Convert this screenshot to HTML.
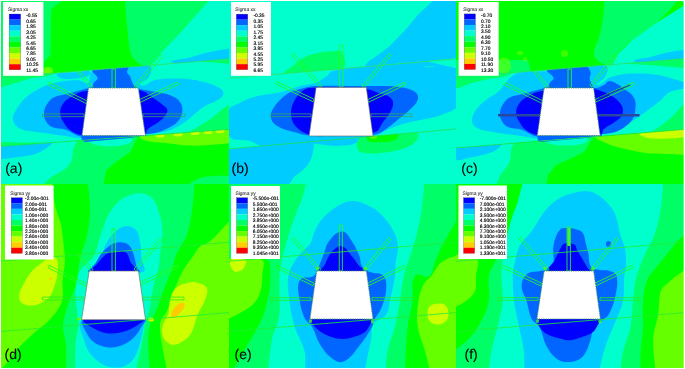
<!DOCTYPE html>
<html><head><meta charset="utf-8"><style>
html,body{margin:0;padding:0;background:#fff;width:685px;height:369px;overflow:hidden}
svg{display:block}
text{font-family:"Liberation Sans",sans-serif;text-rendering:geometricPrecision} .tx{will-change:transform}
</style></head><body>
<svg width="685" height="369" viewBox="0 0 685 369" shape-rendering="geometricPrecision">
<defs><filter id="nf" x="0" y="0" width="1" height="1"><feOffset dx="0" dy="0"/></filter></defs>
<rect width="685" height="369" fill="#fff"/>
<clipPath id="cpa"><rect x="0" y="0" width="229" height="184"/></clipPath><g clip-path="url(#cpa)"><rect x="0" y="0" width="229" height="184" fill="#00ff00"/><polygon points="0.0,0.0 63.0,0.0 56.0,5.0 51.0,9.5 50.5,55.0 44.0,62.0 43.0,78.0 0.0,78.0" fill="#00ff66"/><path d="M125.0,-2.0 C125.0,-2.0 211.0,-2.0 211.0,-2.0 C211.0,-2.0 191.2,20.4 180.0,33.0 C174.6,39.1 170.4,43.8 165.0,50.0 C160.6,55.0 157.8,59.4 153.0,64.0 C151.2,65.7 149.4,67.3 147.0,67.0 C143.0,66.5 140.1,64.5 137.0,62.0 C134.2,59.7 132.1,57.4 131.0,54.0 C128.8,47.4 128.9,41.9 128.0,35.0 C127.1,27.8 126.6,22.2 126.0,15.0 C125.5,8.9 125.0,-2.0 125.0,-2.0 Z" fill="#00ff66"/><polygon points="211.0,-2.0 232.0,-2.0 232.0,59.0 150.0,66.0 162.0,52.0 180.0,33.0" fill="#00ffcc"/><path d="M172.0,62.5 C165.8,60.0 183.5,59.4 190.0,57.5 C195.4,55.9 199.5,54.4 205.0,53.0 C209.6,51.8 213.3,51.4 218.0,50.5 C223.0,49.6 232.0,48.0 232.0,48.0 C232.0,48.0 232.0,59.5 232.0,59.5 C232.0,59.5 211.5,60.9 200.0,61.5 C189.9,62.0 181.4,66.2 172.0,62.5 Z" fill="#00ccff"/><ellipse cx="48" cy="71" rx="5" ry="4" fill="#66ff00"/><polygon points="0.0,77.5 229.0,59.0 229.0,129.4 0.0,146.5" fill="#00ffcc"/><clipPath id="mla"><polygon points="0,77.5 229,59 229,129.4 0,146.5"/></clipPath><g clip-path="url(#mla)"><polygon points="200.0,61.5 232.0,58.5 232.0,64.2 215.0,62.6" fill="#00ff66"/><path d="M-5.0,76.0 C-5.0,76.0 36.5,70.1 60.0,70.0 C64.5,70.0 53.1,74.4 48.8,75.7 C43.1,77.4 38.3,76.7 32.5,78.0 C26.4,79.3 22.0,81.3 16.0,83.0 C8.5,85.2 -5.0,89.0 -5.0,89.0 C-5.0,89.0 -5.0,76.0 -5.0,76.0 Z" fill="#00ff66"/><path d="M232.0,104.0 C232.0,104.0 232.0,135.0 232.0,135.0 C232.0,135.0 201.6,139.2 185.0,136.0 C180.2,135.1 191.9,130.7 196.0,128.0 C201.7,124.2 206.5,121.9 212.0,118.0 C216.6,114.7 219.4,111.2 224.0,108.0 C226.6,106.2 232.0,104.0 232.0,104.0 Z" fill="#00ff66"/><path d="M88.0,83.0 C91.4,80.6 88.1,73.5 92.0,72.0 C104.9,67.1 116.3,68.4 130.0,67.0 C137.2,66.3 143.6,62.6 150.0,66.0 C153.5,67.9 150.7,73.4 149.0,77.0 C147.3,80.7 137.4,83.2 141.0,85.0 C145.8,87.4 149.7,80.9 155.0,80.0 C163.5,78.5 170.3,78.2 179.0,78.5 C187.7,78.8 194.5,79.6 203.0,81.7 C209.8,83.4 215.2,85.1 221.0,89.0 C222.9,90.3 223.9,92.9 223.0,95.0 C221.7,98.1 218.8,99.3 216.0,101.0 C212.3,103.3 208.8,103.8 205.0,106.0 C201.9,107.8 199.8,109.8 197.0,112.0 C192.6,115.5 189.6,118.8 185.0,122.0 C180.6,125.1 177.0,127.4 172.0,129.4 C166.8,131.4 162.5,132.3 157.0,133.0 C140.1,135.1 126.9,135.8 110.0,137.0 C99.9,137.7 92.1,138.8 82.0,138.5 C74.7,138.3 69.2,136.6 62.0,135.6 C53.0,134.3 46.0,133.4 37.0,132.0 C31.2,131.1 26.2,131.6 21.0,129.0 C17.1,127.1 13.6,124.3 13.0,120.0 C12.3,115.0 15.4,111.3 18.0,107.0 C20.7,102.5 23.6,99.4 27.6,96.0 C31.8,92.5 35.8,90.5 40.7,88.0 C44.6,86.0 47.8,84.7 52.0,83.5 C56.6,82.2 60.3,81.5 65.0,81.0 C70.4,80.4 74.6,80.0 80.0,80.5 C83.0,80.8 85.5,84.7 88.0,83.0 Z" fill="#00ccff"/><path d="M57.0,74.0 C62.9,71.3 68.5,73.0 75.0,72.5 C80.4,72.1 84.8,70.1 90.0,71.5 C91.7,72.0 89.6,75.3 88.0,76.0 C83.7,78.0 79.7,78.0 75.0,78.5 C70.3,78.9 66.5,79.6 62.0,78.5 C59.7,77.9 54.8,75.0 57.0,74.0 Z" fill="#00ccff"/><path d="M92.8,70.0 C104.8,65.7 115.3,66.1 128.0,67.0 C129.9,67.1 126.6,70.4 127.0,72.3 C127.3,73.9 129.0,74.5 129.8,76.0 C130.7,77.7 130.9,79.2 131.7,80.9 C132.6,82.7 133.1,84.2 134.5,85.6 C136.2,87.2 137.8,88.4 140.0,89.0 C146.2,90.8 151.3,91.0 157.6,92.3 C162.3,93.3 166.2,93.6 170.7,95.5 C174.4,97.1 177.7,98.7 180.0,102.0 C182.1,105.0 182.8,108.3 182.3,112.0 C181.8,116.0 180.1,119.1 177.3,122.0 C173.7,125.7 169.7,127.3 165.0,129.4 C160.5,131.4 156.9,132.8 152.0,133.5 C140.6,135.2 131.5,135.5 120.0,136.0 C106.3,136.6 95.6,138.1 82.0,136.5 C75.4,135.7 71.3,131.4 65.0,129.4 C60.5,128.0 56.3,129.0 52.0,127.0 C49.0,125.6 47.1,123.3 45.5,120.4 C44.1,117.8 43.7,115.2 44.0,112.3 C44.3,109.1 45.4,106.7 47.2,104.0 C49.0,101.3 50.8,99.1 53.7,97.6 C58.6,95.2 63.0,95.0 68.3,93.6 C74.3,91.9 79.0,90.8 85.0,89.0 C87.6,88.2 89.8,88.1 92.0,86.5 C93.2,85.6 93.0,84.0 93.8,82.7 C95.0,80.9 97.8,80.2 97.6,78.0 C97.3,74.7 89.6,71.1 92.8,70.0 Z" fill="#0066ff"/><path d="M86.0,91.0 C105.3,89.1 120.7,88.4 140.0,90.6 C145.9,91.3 149.4,95.6 154.4,98.8 C158.0,101.1 160.7,103.2 164.0,106.0 C165.4,107.2 167.2,108.1 167.4,110.0 C167.6,112.3 166.4,114.1 165.0,116.0 C163.1,118.5 161.1,120.1 158.6,122.0 C154.8,124.9 151.0,126.1 147.4,129.4 C145.9,130.8 147.0,134.3 145.0,134.5 C122.4,136.4 104.6,136.4 82.0,135.0 C77.3,134.7 73.8,132.7 70.0,130.0 C66.9,127.9 65.4,125.2 63.4,122.0 C61.8,119.4 60.5,117.1 60.2,114.0 C59.9,111.0 60.3,108.4 61.8,105.8 C63.9,102.2 66.4,99.8 70.0,97.6 C75.3,94.3 79.8,91.6 86.0,91.0 Z" fill="#0000ff"/><polygon points="81.0,135.0 146.0,135.0 146.0,136.0 82.0,141.0" fill="#0066ff"/><path d="M-5.0,142.0 C-5.0,142.0 11.0,142.4 20.0,142.5 C29.0,142.6 36.0,142.5 45.0,142.5 C51.1,142.5 68.0,141.3 62.0,142.5 C50.7,144.8 41.5,144.6 30.0,145.5 C17.4,146.5 -5.0,148.0 -5.0,148.0 C-5.0,148.0 -5.0,142.0 -5.0,142.0 Z" fill="#00ff66"/></g><clipPath id="lra"><polygon points="0,146.5 229,129.4 229,185 0,185"/></clipPath><g clip-path="url(#lra)"><polygon points="0.0,140.0 140.0,130.0 137.0,137.8 130.4,152.0 116.0,162.0 106.4,170.0 103.0,186.0 0.0,186.0" fill="#00ff66"/><path d="M-5.0,146.0 C-5.0,146.0 46.2,138.5 75.0,140.0 C78.7,140.2 73.6,146.4 73.0,150.0 C72.5,153.2 73.0,155.9 72.0,159.0 C71.1,161.8 69.9,163.8 68.0,166.0 C66.2,168.2 64.3,169.4 62.0,171.0 C57.8,173.8 54.1,175.2 50.0,178.0 C46.2,180.6 44.6,185.3 40.0,186.0 C24.0,188.3 -5.0,186.0 -5.0,186.0 C-5.0,186.0 -5.0,146.0 -5.0,146.0 Z" fill="#00ffcc"/><path d="M-5.0,146.0 C-5.0,146.0 31.5,140.8 52.0,142.0 C55.6,142.2 47.9,146.9 45.0,149.0 C41.7,151.3 38.9,152.9 35.0,154.0 C28.7,155.9 23.5,156.4 17.0,157.3 C9.1,158.4 -5.0,159.5 -5.0,159.5 C-5.0,159.5 -5.0,146.0 -5.0,146.0 Z" fill="#00ccff"/><ellipse cx="110" cy="140" rx="22" ry="6.5" fill="#00ffcc"/><polygon points="82.0,135.5 145.0,135.5 130.0,138.0 84.0,142.0" fill="#0066ff"/><path d="M140.0,136.0 C172.9,130.9 232.0,127.0 232.0,127.0 C232.0,127.0 232.0,143.0 232.0,143.0 C232.0,143.0 217.9,144.5 210.0,145.0 C202.8,145.4 197.2,145.9 190.0,145.6 C181.0,145.2 174.0,144.0 165.0,143.0 C157.8,142.2 152.0,142.6 145.0,140.6 C142.6,139.9 137.6,136.4 140.0,136.0 Z" fill="#66ff00"/><ellipse cx="160" cy="135.5" rx="4.5" ry="2.2" fill="#ccff00"/><ellipse cx="178" cy="134.2" rx="4.5" ry="2.2" fill="#ccff00"/><ellipse cx="195" cy="132.9" rx="4.5" ry="2.2" fill="#ccff00"/><ellipse cx="208" cy="131.9" rx="4.5" ry="2.2" fill="#ccff00"/><ellipse cx="220" cy="131.0" rx="4.5" ry="2.2" fill="#ccff00"/><path d="M190.0,186.0 C185.5,184.9 195.7,179.7 200.0,178.0 C205.1,176.0 209.6,176.3 215.0,176.0 C221.1,175.6 232.0,176.0 232.0,176.0 C232.0,176.0 232.0,186.0 232.0,186.0 C232.0,186.0 204.7,189.7 190.0,186.0 Z" fill="#00ff66"/></g><line x1="0" y1="77.5" x2="229" y2="59" stroke="#33dd55" stroke-width="0.7"/><line x1="0" y1="146.5" x2="229" y2="129.4" stroke="#22dd44" stroke-width="0.7"/><polygon points="47.91,84.71 86.41,103.61 87.59,101.19 49.09,82.29" fill="none" stroke="#22ff22" stroke-width="0.85"/><polygon points="77.97,72.87 90.97,88.37 93.03,86.63 80.03,71.13" fill="none" stroke="#22ff22" stroke-width="0.85"/><polygon points="112.00,69.00 112.00,88.00 115.40,88.00 115.40,69.00" fill="none" stroke="#22ff22" stroke-width="0.85"/><polygon points="136.03,87.88 162.73,56.58 160.67,54.82 133.97,86.12" fill="none" stroke="#22ff22" stroke-width="0.85"/><polygon points="140.37,102.22 178.57,84.52 177.43,82.08 139.23,99.78" fill="none" stroke="#22ff22" stroke-width="0.85"/><polygon points="42.40,116.70 84.00,116.70 84.00,113.90 42.40,113.90" fill="none" stroke="#33aa66" stroke-width="0.8"/><polygon points="143.00,116.70 185.00,116.70 185.00,113.90 143.00,113.90" fill="none" stroke="#33aa66" stroke-width="0.8"/><polygon points="88.5,88 138.3,88 145.4,135.5 82,135.5" fill="#fff"/><polygon points="88.5,88 138.3,88 145.4,135.5 82,135.5" fill="none" stroke="#4a8a6a" stroke-width="1.1" stroke-dasharray="0.9 0.9"/><rect x="3" y="2" width="40.4" height="73.8" fill="#fff"/><g filter="url(#nf)"><text x="8.1" y="10.9" font-size="4.9" fill="#333" stroke="#333" stroke-width="0.1">Sigma xx</text><rect x="9.1" y="14.00" width="11.6" height="5.63" fill="#0000ff"/><rect x="9.1" y="19.58" width="11.6" height="5.63" fill="#0066ff"/><rect x="9.1" y="25.16" width="11.6" height="5.63" fill="#00ccff"/><rect x="9.1" y="30.74" width="11.6" height="5.63" fill="#00ffcc"/><rect x="9.1" y="36.32" width="11.6" height="5.63" fill="#00ff66"/><rect x="9.1" y="41.90" width="11.6" height="5.63" fill="#00ff00"/><rect x="9.1" y="47.48" width="11.6" height="5.63" fill="#66ff00"/><rect x="9.1" y="53.06" width="11.6" height="5.63" fill="#ccff00"/><rect x="9.1" y="58.64" width="11.6" height="5.63" fill="#ffcc00"/><rect x="9.1" y="64.22" width="11.6" height="5.63" fill="#ff0000"/><rect x="9.1" y="14" width="11.6" height="55.80" fill="none" stroke="#555" stroke-width="0.3"/><text x="26.2" y="17.15" font-size="4.9" fill="#000" stroke="#000" stroke-width="0.15">-0.55</text><text x="26.2" y="22.62" font-size="4.9" fill="#000" stroke="#000" stroke-width="0.15">0.65</text><text x="26.2" y="28.09" font-size="4.9" fill="#000" stroke="#000" stroke-width="0.15">1.85</text><text x="26.2" y="33.56" font-size="4.9" fill="#000" stroke="#000" stroke-width="0.15">3.05</text><text x="26.2" y="39.03" font-size="4.9" fill="#000" stroke="#000" stroke-width="0.15">4.25</text><text x="26.2" y="44.50" font-size="4.9" fill="#000" stroke="#000" stroke-width="0.15">5.45</text><text x="26.2" y="49.97" font-size="4.9" fill="#000" stroke="#000" stroke-width="0.15">6.65</text><text x="26.2" y="55.44" font-size="4.9" fill="#000" stroke="#000" stroke-width="0.15">7.85</text><text x="26.2" y="60.91" font-size="4.9" fill="#000" stroke="#000" stroke-width="0.15">9.05</text><text x="26.2" y="66.38" font-size="4.9" fill="#000" stroke="#000" stroke-width="0.15">10.25</text><text x="26.2" y="71.85" font-size="4.9" fill="#000" stroke="#000" stroke-width="0.15">11.45</text></g><g filter="url(#nf)"><text x="5.2" y="172.9" font-size="14" fill="#000" stroke="#000" stroke-width="0.08">(a)</text></g></g><clipPath id="cpb"><rect x="229" y="0" width="227" height="184"/></clipPath><g clip-path="url(#cpb)"><rect x="229" y="0" width="227" height="184" fill="#00ffcc"/><polygon points="435.5,-2.0 460.0,-2.0 460.0,58.0 365.0,66.5 366.0,64.0 369.0,61.0 378.0,55.0 388.0,47.4 397.0,38.5 405.3,30.0 417.8,15.0" fill="#00ccff"/><path d="M285.0,73.6 C281.2,72.9 289.7,68.5 292.7,66.0 C296.6,62.7 299.5,59.8 304.0,57.5 C309.1,54.9 313.5,53.9 319.0,52.7 C324.5,51.5 328.9,51.1 334.5,50.9 C337.2,50.8 340.8,49.4 342.0,51.8 C344.6,57.0 347.4,64.2 343.0,68.0 C336.7,73.5 328.3,70.2 320.0,71.0 C307.4,72.2 297.4,75.9 285.0,73.6 Z" fill="#00ff66"/><clipPath id="mlb"><polygon points="229,78.2 456,59 456,129 229,148.9"/></clipPath><g clip-path="url(#mlb)"><polygon points="229.0,78.2 456.0,59.0 456.0,129.0 229.0,148.9" fill="#00ffcc"/><path d="M229.0,109.5 C229.8,106.3 233.6,106.0 236.5,104.5 C242.6,101.4 247.4,98.8 254.0,97.0 C263.7,94.3 271.6,94.3 281.4,92.0 C288.2,90.4 293.2,87.8 300.0,86.0 C305.5,84.5 310.0,84.6 315.5,83.0 C317.7,82.4 319.1,81.2 321.0,80.0 C323.2,78.7 324.9,77.6 327.0,76.0 C329.1,74.3 330.0,71.7 332.6,71.0 C344.0,68.1 353.3,67.7 365.0,66.5 C397.7,63.1 423.1,58.9 456.0,58.0 C458.3,57.9 460.0,63.0 458.0,64.0 C452.2,66.9 446.5,65.4 440.0,66.0 C434.6,66.5 419.7,66.1 425.0,67.0 C436.0,68.8 448.6,60.2 456.0,68.6 C464.6,78.3 461.6,92.1 458.0,104.5 C456.2,110.8 448.7,111.8 442.7,114.4 C435.9,117.3 430.0,117.7 422.8,119.4 C416.5,120.9 411.5,121.4 405.3,123.2 C398.9,125.0 394.1,126.9 388.0,129.4 C383.3,131.3 380.3,134.4 375.4,135.6 C368.2,137.4 362.3,136.6 355.0,137.5 C346.0,138.6 338.9,139.3 330.0,141.0 C322.7,142.4 317.3,145.0 310.0,146.0 C299.3,147.5 290.8,148.0 280.0,148.0 C273.5,148.0 268.3,147.5 262.0,146.0 C257.4,144.9 254.5,142.4 250.0,141.0 C242.6,138.7 233.3,142.5 229.0,136.0 C223.7,128.1 226.8,118.8 229.0,109.5 Z" fill="#00ccff"/><polygon points="425.0,61.0 460.0,58.0 460.0,69.0" fill="#00ffcc"/><path d="M286.4,94.5 C290.6,91.3 294.9,90.5 300.0,89.0 C305.6,87.4 310.1,86.3 316.0,86.0 C334.0,85.2 348.0,86.0 366.0,86.0 C371.0,86.0 375.0,85.9 380.0,86.0 C387.2,86.2 392.9,85.8 400.0,87.0 C405.7,88.0 410.6,88.7 415.3,92.0 C417.6,93.6 418.6,96.8 417.8,99.5 C416.5,103.9 413.2,106.3 410.0,109.5 C406.0,113.5 402.4,115.9 398.0,119.4 C393.5,123.0 390.2,126.2 385.4,129.4 C382.0,131.6 379.4,133.9 375.4,134.4 C359.2,136.3 346.4,135.7 330.0,136.0 C322.4,136.1 316.5,136.4 309.0,135.6 C303.5,135.0 299.3,133.5 294.0,132.0 C288.5,130.4 284.0,129.8 279.0,127.0 C275.6,125.1 272.7,123.0 271.4,119.4 C270.2,116.0 270.7,112.6 272.6,109.5 C276.4,103.2 280.5,98.9 286.4,94.5 Z" fill="#0066ff"/><path d="M301.0,92.0 C303.6,89.6 306.5,88.2 310.0,88.0 C330.1,87.1 345.9,87.4 366.0,89.0 C371.3,89.4 375.0,91.9 380.0,93.5 C382.9,94.4 385.5,94.3 388.0,96.0 C390.4,97.5 392.6,99.2 393.0,102.0 C393.6,105.7 392.1,108.7 390.4,112.0 C388.4,116.0 385.7,118.4 383.0,122.0 C380.3,125.6 379.7,130.7 375.4,132.0 C363.2,135.7 352.8,134.5 340.0,135.0 C328.8,135.4 320.0,136.4 309.0,134.4 C303.8,133.4 300.1,130.7 296.3,127.0 C293.4,124.2 292.0,121.0 291.3,117.0 C290.6,112.5 291.0,108.7 292.6,104.5 C294.6,99.4 297.1,95.7 301.0,92.0 Z" fill="#0000ff"/></g><clipPath id="lrb"><polygon points="229,148.9 456,129 456,185 229,185"/></clipPath><g clip-path="url(#lrb)"><polygon points="229.0,148.9 456.0,129.0 456.0,185.0 229.0,185.0" fill="#00ffcc"/><path d="M226.0,149.0 C226.0,149.0 280.3,138.2 311.0,140.0 C316.1,140.3 313.4,149.0 312.5,154.0 C311.5,159.1 309.3,162.9 306.0,167.0 C302.5,171.4 298.1,173.1 294.0,177.0 C290.9,180.0 290.3,185.4 286.0,186.0 C264.6,188.8 226.0,186.0 226.0,186.0 C226.0,186.0 226.0,149.0 226.0,149.0 Z" fill="#00ccff"/><path d="M305.0,140.0 C324.2,135.1 340.2,134.8 360.0,136.0 C362.9,136.2 358.5,141.6 356.0,143.0 C351.8,145.3 347.8,145.3 343.0,145.6 C336.5,146.0 331.4,145.9 325.0,145.0 C317.7,143.9 297.8,141.8 305.0,140.0 Z" fill="#00ccff"/><path d="M360.5,138.0 C380.4,134.0 396.3,132.1 416.6,133.0 C419.3,133.1 418.2,138.4 416.6,140.6 C413.7,144.5 409.9,146.4 405.3,148.0 C396.7,151.0 389.5,152.2 380.4,153.0 C373.3,153.6 367.3,154.3 360.5,152.0 C357.8,151.1 357.0,147.8 357.0,145.0 C357.0,142.2 357.7,138.6 360.5,138.0 Z" fill="#00ff66"/><path d="M368.0,136.0 C378.5,133.5 387.3,132.4 398.0,134.0 C400.4,134.4 397.2,139.0 395.0,140.0 C390.0,142.2 385.4,141.8 380.0,142.0 C375.7,142.2 371.9,142.9 368.0,141.0 C366.4,140.2 366.2,136.4 368.0,136.0 Z" fill="#00ff00"/><ellipse cx="373.5" cy="137" rx="3.5" ry="1.8" fill="#66ff00"/></g><line x1="229" y1="78.2" x2="456" y2="59" stroke="#33dd55" stroke-width="0.7"/><line x1="229" y1="148.9" x2="456" y2="129" stroke="#22dd44" stroke-width="0.7"/><polygon points="276.02,84.22 313.02,101.72 314.18,99.28 277.18,81.78" fill="none" stroke="#22ff22" stroke-width="0.85"/><polygon points="291.68,55.49 319.98,87.79 322.02,86.01 293.72,53.71" fill="none" stroke="#22ff22" stroke-width="0.85"/><polygon points="339.30,45.20 339.30,87.00 342.90,87.00 342.90,45.20" fill="none" stroke="#22ff22" stroke-width="0.85"/><polygon points="364.04,87.77 391.04,55.47 388.96,53.73 361.96,86.03" fill="none" stroke="#22ff22" stroke-width="0.85"/><polygon points="368.58,102.22 405.58,84.72 404.42,82.28 367.42,99.78" fill="none" stroke="#22ff22" stroke-width="0.85"/><polygon points="270.50,116.70 311.00,116.70 311.00,113.90 270.50,113.90" fill="none" stroke="#33aa66" stroke-width="0.8"/><polygon points="371.00,116.70 412.00,116.70 412.00,113.90 371.00,113.90" fill="none" stroke="#33aa66" stroke-width="0.8"/><polygon points="316.1,87.4 366.3,87.4 373,136 309.1,136" fill="#fff"/><polygon points="316.1,87.4 366.3,87.4 373,136 309.1,136" fill="none" stroke="#666" stroke-width="0.6"/><rect x="231" y="2" width="40" height="73.8" fill="#fff"/><g filter="url(#nf)"><text x="235.3" y="11.0" font-size="4.9" fill="#333" stroke="#333" stroke-width="0.1">Sigma xx</text><rect x="236.3" y="14.10" width="11.5" height="5.61" fill="#0000ff"/><rect x="236.3" y="19.66" width="11.5" height="5.61" fill="#0066ff"/><rect x="236.3" y="25.22" width="11.5" height="5.61" fill="#00ccff"/><rect x="236.3" y="30.78" width="11.5" height="5.61" fill="#00ffcc"/><rect x="236.3" y="36.34" width="11.5" height="5.61" fill="#00ff66"/><rect x="236.3" y="41.90" width="11.5" height="5.61" fill="#00ff00"/><rect x="236.3" y="47.46" width="11.5" height="5.61" fill="#66ff00"/><rect x="236.3" y="53.02" width="11.5" height="5.61" fill="#ccff00"/><rect x="236.3" y="58.58" width="11.5" height="5.61" fill="#ffcc00"/><rect x="236.3" y="64.14" width="11.5" height="5.61" fill="#ff0000"/><rect x="236.3" y="14.1" width="11.5" height="55.60" fill="none" stroke="#555" stroke-width="0.3"/><text x="253.4" y="17.25" font-size="4.9" fill="#000" stroke="#000" stroke-width="0.15">-0.35</text><text x="253.4" y="22.72" font-size="4.9" fill="#000" stroke="#000" stroke-width="0.15">0.35</text><text x="253.4" y="28.19" font-size="4.9" fill="#000" stroke="#000" stroke-width="0.15">1.05</text><text x="253.4" y="33.66" font-size="4.9" fill="#000" stroke="#000" stroke-width="0.15">1.75</text><text x="253.4" y="39.13" font-size="4.9" fill="#000" stroke="#000" stroke-width="0.15">2.45</text><text x="253.4" y="44.60" font-size="4.9" fill="#000" stroke="#000" stroke-width="0.15">3.15</text><text x="253.4" y="50.07" font-size="4.9" fill="#000" stroke="#000" stroke-width="0.15">3.85</text><text x="253.4" y="55.54" font-size="4.9" fill="#000" stroke="#000" stroke-width="0.15">4.55</text><text x="253.4" y="61.01" font-size="4.9" fill="#000" stroke="#000" stroke-width="0.15">5.25</text><text x="253.4" y="66.48" font-size="4.9" fill="#000" stroke="#000" stroke-width="0.15">5.95</text><text x="253.4" y="71.95" font-size="4.9" fill="#000" stroke="#000" stroke-width="0.15">6.65</text></g><g filter="url(#nf)"><text x="231.6" y="172.9" font-size="14" fill="#000" stroke="#000" stroke-width="0.08">(b)</text></g></g><clipPath id="cpc"><rect x="456" y="0" width="229" height="184"/></clipPath><g clip-path="url(#cpc)"><rect x="456" y="0" width="229" height="184" fill="#00ff00"/><polygon points="456.0,60.0 496.0,60.0 528.0,60.0 531.0,72.0 456.0,78.0" fill="#00ff66"/><path d="M604.5,-2.0 C604.5,-2.0 680.0,-2.0 680.0,-2.0 C680.0,-2.0 666.1,14.4 657.0,22.4 C648.8,29.6 640.7,33.1 632.3,40.0 C626.4,44.8 622.3,49.2 617.4,55.0 C615.1,57.7 614.5,60.7 612.4,63.6 C611.8,64.5 611.1,65.5 610.0,65.5 C607.2,65.5 604.9,64.9 602.4,63.6 C599.3,61.9 596.7,60.4 595.0,57.4 C593.7,55.1 594.0,52.6 594.5,50.0 C595.4,45.3 597.8,42.1 599.0,37.4 C600.8,30.5 602.0,25.1 603.0,18.0 C604.0,10.8 604.5,-2.0 604.5,-2.0 Z" fill="#00ff66"/><polygon points="680.0,-2.0 688.0,-2.0 688.0,58.6 612.0,65.0 617.4,55.0 632.3,40.0 657.0,22.4 685.0,5.0" fill="#00ffcc"/><path d="M634.8,61.5 C629.4,59.6 644.5,58.5 650.0,57.0 C655.4,55.5 659.5,54.2 665.0,53.0 C673.2,51.3 688.0,49.0 688.0,49.0 C688.0,49.0 688.0,58.8 688.0,58.8 C688.0,58.8 670.1,60.0 660.0,60.5 C650.9,61.0 643.4,64.5 634.8,61.5 Z" fill="#00ccff"/><ellipse cx="520" cy="53" rx="3" ry="2" fill="#66ff00" opacity="0.6"/><ellipse cx="525" cy="59.5" rx="2" ry="2.5" fill="#66ff00" opacity="0.6"/><ellipse cx="564.5" cy="53.5" rx="3.5" ry="3.5" fill="#66ff00" opacity="0.6"/><ellipse cx="504" cy="65.5" rx="7" ry="8" fill="#66ff00" opacity="0.6"/><clipPath id="mlc"><polygon points="456,77.3 685,58.6 685,129.4 456,148"/></clipPath><g clip-path="url(#mlc)"><polygon points="456.0,77.3 685.0,58.6 685.0,129.4 456.0,148.0" fill="#00ffcc"/><polygon points="625.0,63.5 688.0,58.3 688.0,68.2 655.0,65.5" fill="#00ff66"/><path d="M451.0,76.0 C473.6,69.7 492.5,69.8 516.0,70.0 C520.7,70.0 509.2,75.0 504.8,76.5 C499.2,78.3 494.3,77.8 488.5,79.0 C482.5,80.2 477.9,81.6 472.0,83.0 C464.4,84.8 458.4,90.5 451.0,88.0 C446.9,86.6 446.8,77.2 451.0,76.0 Z" fill="#00ff66"/><polygon points="688.0,99.0 688.0,131.0 650.0,133.0 662.0,125.0 672.0,117.0 680.0,108.0" fill="#00ff66"/><path d="M518.0,73.0 C529.3,70.6 538.5,72.0 550.0,71.0 C563.0,69.9 573.0,68.2 586.0,67.0 C593.2,66.4 599.6,62.6 606.0,66.0 C609.5,67.9 606.7,73.4 605.0,77.0 C603.3,80.7 592.9,85.0 597.0,85.0 C602.8,85.0 605.5,78.8 611.0,77.0 C618.3,74.6 624.4,74.0 632.0,73.6 C641.0,73.2 648.1,73.5 657.0,74.8 C664.4,75.8 669.9,77.9 677.0,80.0 C681.0,81.2 688.0,84.0 688.0,84.0 C688.0,84.0 688.0,88.0 688.0,88.0 C688.0,88.0 676.1,89.3 670.0,92.0 C666.0,93.8 664.3,97.2 661.0,100.0 C657.8,102.6 655.3,104.5 652.0,107.0 C645.9,111.5 641.4,115.3 635.0,119.4 C628.8,123.4 623.8,126.5 617.0,129.4 C611.1,131.8 606.3,133.1 600.0,134.0 C587.8,135.8 578.3,136.1 566.0,137.0 C555.9,137.7 548.1,138.8 538.0,138.5 C530.7,138.3 525.2,136.6 518.0,135.6 C509.0,134.3 501.9,133.7 493.0,132.0 C487.2,130.9 482.3,130.8 477.0,128.0 C474.3,126.6 472.2,124.1 472.0,121.0 C471.8,116.8 473.7,113.5 476.0,110.0 C478.8,105.8 482.1,103.2 486.0,100.0 C490.0,96.7 494.2,95.5 498.0,92.0 C502.2,88.2 503.9,83.9 508.0,80.0 C511.2,77.0 513.7,73.9 518.0,73.0 Z" fill="#00ccff"/><path d="M547.5,70.0 C560.6,65.3 572.1,65.7 586.0,66.5 C588.7,66.7 589.9,69.9 590.7,72.5 C591.3,74.6 589.4,76.3 589.6,78.4 C589.8,80.6 590.9,82.2 592.0,84.2 C592.9,85.7 593.3,87.9 595.0,88.0 C598.4,88.2 600.9,86.5 604.0,85.0 C606.2,83.9 607.0,81.0 609.4,81.0 C613.1,81.0 615.7,83.3 619.0,85.0 C620.4,85.7 621.2,86.6 622.4,87.6 C626.5,91.1 631.0,92.8 633.8,97.4 C636.0,100.9 635.7,104.7 635.4,108.8 C635.1,113.0 634.4,116.5 632.0,120.0 C629.0,124.3 625.5,126.8 621.0,129.4 C616.7,131.8 612.9,132.8 608.0,133.5 C596.6,135.2 587.5,135.5 576.0,136.0 C562.3,136.6 551.6,138.1 538.0,136.5 C531.4,135.7 527.3,131.4 521.0,129.4 C516.5,128.0 512.3,129.0 508.0,127.0 C505.0,125.6 503.1,123.3 501.5,120.4 C500.1,117.8 499.7,115.2 500.0,112.3 C500.3,109.1 501.4,106.7 503.2,104.0 C505.0,101.3 506.8,99.1 509.7,97.6 C514.6,95.2 519.0,95.0 524.3,93.6 C530.3,91.9 535.0,90.8 541.0,89.0 C543.6,88.2 545.8,88.1 548.0,86.5 C549.2,85.6 549.0,84.0 549.8,82.7 C551.0,80.9 554.0,80.1 553.6,78.0 C553.0,74.4 544.1,71.2 547.5,70.0 Z" fill="#0066ff"/><path d="M542.0,91.0 C560.2,88.7 574.6,89.3 593.0,89.3 C595.9,89.3 598.3,89.9 601.0,91.0 C605.9,92.9 609.8,94.3 614.0,97.4 C617.7,100.1 620.7,102.7 622.4,107.0 C623.6,110.0 623.0,113.1 621.5,116.0 C620.0,118.9 617.2,120.0 614.6,122.0 C610.7,124.9 607.0,126.1 603.4,129.4 C601.9,130.8 603.0,134.3 601.0,134.5 C578.4,136.4 560.6,136.4 538.0,135.0 C533.3,134.7 529.8,132.7 526.0,130.0 C522.9,127.9 521.4,125.2 519.4,122.0 C517.8,119.4 516.5,117.1 516.2,114.0 C515.9,111.0 516.3,108.4 517.8,105.8 C519.9,102.2 522.4,99.8 526.0,97.6 C531.3,94.3 535.8,91.8 542.0,91.0 Z" fill="#0000ff"/><polygon points="537.0,135.0 602.0,135.0 602.0,136.0 538.0,141.0" fill="#0066ff"/></g><clipPath id="lrc"><polygon points="456,148 685,129.4 685,185 456,185"/></clipPath><g clip-path="url(#lrc)"><polygon points="456.0,140.0 596.0,130.0 593.0,137.8 584.0,152.0 572.0,158.0 556.0,165.0 548.0,175.0 546.0,186.0 456.0,186.0" fill="#00ff66"/><path d="M451.0,146.0 C469.1,132.8 490.7,139.5 513.0,141.0 C516.3,141.2 511.5,146.7 511.0,150.0 C510.3,154.3 511.3,158.0 509.6,162.0 C507.6,166.9 504.0,169.6 501.0,174.0 C498.1,178.2 498.4,184.8 493.4,186.0 C478.6,189.6 462.1,196.5 451.0,186.0 C440.5,176.1 439.3,154.5 451.0,146.0 Z" fill="#00ffcc"/><path d="M451.0,146.0 C468.2,140.5 483.0,141.4 501.0,143.0 C504.1,143.3 498.5,148.2 496.0,150.0 C492.9,152.3 489.7,152.9 486.0,154.0 C481.4,155.4 477.8,156.3 473.0,157.0 C465.1,158.1 458.1,162.6 451.0,159.0 C446.8,156.9 446.5,147.4 451.0,146.0 Z" fill="#00ccff"/><ellipse cx="566" cy="140" rx="22" ry="5.5" fill="#00ffcc"/><polygon points="538.0,135.5 601.0,135.5 586.0,138.0 540.0,142.0" fill="#0066ff"/><path d="M596.0,136.0 C628.7,129.6 688.0,127.0 688.0,127.0 C688.0,127.0 688.0,155.0 688.0,155.0 C688.0,155.0 673.9,154.4 666.0,154.0 C658.8,153.7 653.1,154.0 646.0,153.0 C636.9,151.8 629.9,150.2 621.0,148.0 C615.5,146.6 611.1,145.5 606.0,143.0 C602.0,141.1 591.7,136.8 596.0,136.0 Z" fill="#66ff00"/><path d="M640.0,133.5 C656.9,129.7 688.0,129.0 688.0,129.0 C688.0,129.0 688.0,137.0 688.0,137.0 C688.0,137.0 673.3,138.3 665.0,138.5 C658.9,138.7 654.0,139.2 648.0,138.0 C644.8,137.4 636.8,134.2 640.0,133.5 Z" fill="#ccff00"/><ellipse cx="600" cy="134.5" rx="3" ry="1.3" fill="#ccff00"/><ellipse cx="612" cy="133.5" rx="3" ry="1.3" fill="#ccff00"/><ellipse cx="625" cy="132.5" rx="3" ry="1.3" fill="#ccff00"/><ellipse cx="632" cy="131.9" rx="3" ry="1.3" fill="#ccff00"/></g><line x1="456" y1="77.3" x2="685" y2="58.6" stroke="#33dd55" stroke-width="0.7"/><line x1="456" y1="148" x2="685" y2="129.4" stroke="#22dd44" stroke-width="0.7"/><polygon points="503.91,84.71 542.41,103.61 543.59,101.19 505.09,82.29" fill="none" stroke="#22ff22" stroke-width="0.85"/><polygon points="533.97,72.87 546.97,88.37 549.03,86.63 536.03,71.13" fill="none" stroke="#22ff22" stroke-width="0.85"/><polygon points="568.00,69.00 568.00,88.00 571.40,88.00 571.40,69.00" fill="none" stroke="#22ff22" stroke-width="0.85"/><polygon points="592.05,86.85 617.05,55.75 614.95,54.05 589.95,85.15" fill="none" stroke="#22ff22" stroke-width="0.85"/><polygon points="596.15,101.93 634.35,84.83 633.25,82.37 595.05,99.47" fill="none" stroke="#22ff22" stroke-width="0.85"/><line x1="598" y1="98.5" x2="630" y2="85" stroke="#1a40a0" stroke-width="1.2"/><line x1="498" y1="115.3" x2="639.5" y2="115.3" stroke="#2848a0" stroke-width="2.4"/><polygon points="544.1,87.9 593.6,87.9 600.1,135.5 537.3,135.5" fill="#fff"/><polygon points="544.1,87.9 593.6,87.9 600.1,135.5 537.3,135.5" fill="none" stroke="#4a8a6a" stroke-width="1.1" stroke-dasharray="0.9 0.9"/><rect x="458.6" y="2" width="40.1" height="73.8" fill="#fff"/><g filter="url(#nf)"><text x="463.2" y="10.8" font-size="4.9" fill="#333" stroke="#333" stroke-width="0.1">Sigma xx</text><rect x="464.2" y="13.90" width="11.3" height="5.61" fill="#0000ff"/><rect x="464.2" y="19.46" width="11.3" height="5.61" fill="#0066ff"/><rect x="464.2" y="25.02" width="11.3" height="5.61" fill="#00ccff"/><rect x="464.2" y="30.58" width="11.3" height="5.61" fill="#00ffcc"/><rect x="464.2" y="36.14" width="11.3" height="5.61" fill="#00ff66"/><rect x="464.2" y="41.70" width="11.3" height="5.61" fill="#00ff00"/><rect x="464.2" y="47.26" width="11.3" height="5.61" fill="#66ff00"/><rect x="464.2" y="52.82" width="11.3" height="5.61" fill="#ccff00"/><rect x="464.2" y="58.38" width="11.3" height="5.61" fill="#ffcc00"/><rect x="464.2" y="63.94" width="11.3" height="5.61" fill="#ff0000"/><rect x="464.2" y="13.9" width="11.3" height="55.60" fill="none" stroke="#555" stroke-width="0.3"/><text x="481" y="17.05" font-size="4.9" fill="#000" stroke="#000" stroke-width="0.15">-0.70</text><text x="481" y="22.52" font-size="4.9" fill="#000" stroke="#000" stroke-width="0.15">0.70</text><text x="481" y="27.99" font-size="4.9" fill="#000" stroke="#000" stroke-width="0.15">2.10</text><text x="481" y="33.46" font-size="4.9" fill="#000" stroke="#000" stroke-width="0.15">3.50</text><text x="481" y="38.93" font-size="4.9" fill="#000" stroke="#000" stroke-width="0.15">4.90</text><text x="481" y="44.40" font-size="4.9" fill="#000" stroke="#000" stroke-width="0.15">6.30</text><text x="481" y="49.87" font-size="4.9" fill="#000" stroke="#000" stroke-width="0.15">7.70</text><text x="481" y="55.34" font-size="4.9" fill="#000" stroke="#000" stroke-width="0.15">9.10</text><text x="481" y="60.81" font-size="4.9" fill="#000" stroke="#000" stroke-width="0.15">10.50</text><text x="481" y="66.28" font-size="4.9" fill="#000" stroke="#000" stroke-width="0.15">11.90</text><text x="481" y="71.75" font-size="4.9" fill="#000" stroke="#000" stroke-width="0.15">13.30</text></g><g filter="url(#nf)"><text x="461.3" y="172.9" font-size="14" fill="#000" stroke="#000" stroke-width="0.08">(c)</text></g></g><clipPath id="cpd"><rect x="0" y="184" width="229" height="185"/></clipPath><g clip-path="url(#cpd)"><rect x="0" y="184" width="229" height="185" fill="#00ff00"/><path d="M-5.0,180.0 C-5.0,180.0 52.0,180.0 52.0,180.0 C52.0,180.0 52.9,192.9 54.0,200.0 C54.7,204.4 55.8,207.7 57.0,212.0 C58.3,216.7 60.1,220.2 61.0,225.0 C62.5,232.5 62.8,238.4 63.7,246.0 C64.2,250.7 64.9,254.3 65.0,259.0 C65.0,263.0 64.4,266.0 64.0,270.0 C63.5,274.3 62.8,277.7 62.5,282.0 C62.1,288.8 64.1,294.5 62.0,301.0 C59.6,308.3 55.5,313.2 50.4,319.0 C44.9,325.2 38.9,328.4 32.8,334.0 C26.2,340.1 21.0,345.0 15.0,351.7 C10.7,356.5 8.8,361.4 4.3,366.0 C1.5,368.8 -5.0,372.0 -5.0,372.0 C-5.0,372.0 -5.0,180.0 -5.0,180.0 Z" fill="#66ff00"/><path d="M232.0,218.0 C232.0,218.0 230.1,220.2 229.0,221.4 C222.1,228.6 217.4,234.9 209.8,241.4 C206.7,244.0 202.9,243.8 199.8,246.4 C196.9,248.8 196.0,251.9 193.8,255.0 C190.4,259.9 187.4,263.4 184.3,268.5 C181.5,273.2 179.7,277.0 177.5,282.0 C175.3,286.8 173.9,290.7 172.1,295.7 C170.9,299.0 170.6,301.7 169.4,305.0 C168.4,308.0 167.5,310.3 166.0,313.0 C164.5,315.7 162.0,317.1 161.0,320.0 C159.8,323.4 159.9,326.4 160.0,330.0 C160.2,335.4 161.1,339.6 162.0,345.0 C162.9,350.4 164.0,354.6 165.0,360.0 C165.8,364.3 167.0,372.0 167.0,372.0 C167.0,372.0 232.0,372.0 232.0,372.0 C232.0,372.0 232.0,218.0 232.0,218.0 Z" fill="#66ff00"/><path d="M55.3,257.2 C57.3,258.8 57.6,261.4 57.8,264.0 C58.2,268.3 57.6,271.7 57.0,276.0 C56.7,278.7 56.2,280.8 55.3,283.4 C53.6,288.2 52.8,292.2 49.9,296.4 C47.8,299.3 45.2,300.8 42.0,302.5 C38.8,304.2 36.1,305.4 32.5,305.5 C28.5,305.6 24.7,305.6 21.7,303.0 C19.2,300.9 18.9,297.5 19.3,294.2 C19.8,290.0 21.9,287.1 23.9,283.4 C26.6,278.5 28.7,274.6 32.5,270.4 C35.9,266.7 39.3,264.6 43.4,261.7 C45.6,260.1 47.4,258.8 50.0,257.8 C51.8,257.1 53.8,256.0 55.3,257.2 Z" fill="#ccff00"/><path d="M190.7,282.3 C194.0,281.6 196.9,282.3 200.0,283.5 C202.9,284.6 206.1,285.6 207.0,288.6 C208.2,292.6 206.4,296.1 205.0,300.0 C203.1,305.2 200.2,308.7 198.0,313.8 C195.0,320.9 194.8,327.4 190.7,334.0 C188.1,338.3 184.3,340.4 180.0,343.0 C177.6,344.4 175.3,344.9 172.5,344.7 C170.3,344.5 168.7,343.4 167.0,342.0 C165.2,340.4 163.7,338.9 163.0,336.6 C162.0,333.3 161.9,330.4 162.4,327.0 C162.9,323.9 164.4,321.8 165.7,319.0 C166.6,317.0 168.0,315.7 168.5,313.5 C169.4,309.7 168.4,306.5 169.5,302.7 C171.0,297.4 171.5,292.4 175.5,288.6 C179.8,284.5 184.9,283.5 190.7,282.3 Z" fill="#ccff00"/><path d="M183.0,302.5 C184.4,302.5 184.9,304.7 184.5,306.0 C183.7,308.9 182.1,310.8 180.0,313.0 C177.9,315.2 176.1,318.0 173.0,318.0 C171.1,318.0 171.0,314.8 171.5,313.0 C172.2,310.1 173.8,308.0 176.0,306.0 C178.1,304.1 180.2,302.5 183.0,302.5 Z" fill="#ffcc00"/><ellipse cx="50.5" cy="278.5" rx="1.2" ry="1.2" fill="#ffcc00"/><path d="M87.4,180.0 C87.4,180.0 194.8,180.0 194.8,180.0 C194.8,180.0 193.7,198.6 192.3,209.0 C191.0,218.1 190.0,225.2 187.3,234.0 C185.9,238.7 183.3,241.7 181.0,246.0 C179.3,249.2 177.6,251.6 176.2,255.0 C174.3,259.7 173.8,263.7 172.1,268.5 C170.4,273.4 168.6,277.1 166.7,282.0 C164.7,286.9 163.1,290.7 161.3,295.7 C160.1,299.0 159.7,301.7 158.5,305.0 C157.1,308.7 155.8,311.5 154.0,315.0 C153.1,316.9 151.6,318.0 151.0,320.0 C149.5,325.3 149.0,329.5 148.5,335.0 C148.1,340.4 148.3,344.6 148.5,350.0 C148.8,357.9 150.0,372.0 150.0,372.0 C150.0,372.0 66.0,372.0 66.0,372.0 C66.0,372.0 66.6,354.7 66.0,345.0 C65.5,337.7 62.6,332.3 63.0,325.0 C63.4,317.6 65.7,312.1 68.0,305.0 C70.4,297.6 74.0,292.5 76.0,285.0 C78.4,275.8 77.9,268.2 80.0,259.0 C82.0,249.8 85.6,243.2 87.4,234.0 C89.2,225.1 90.0,218.0 90.0,209.0 C90.0,198.5 87.4,180.0 87.4,180.0 Z" fill="#00ff66"/><path d="M130.0,195.0 C136.9,192.7 144.1,192.4 150.0,196.5 C156.5,201.0 157.5,208.5 160.0,216.0 C162.1,222.2 162.4,227.5 162.4,234.0 C162.4,241.6 160.9,247.4 160.0,255.0 C159.5,259.9 159.5,263.7 158.5,268.5 C157.5,273.5 155.7,277.1 154.5,282.0 C153.3,286.9 152.7,290.8 151.8,295.7 C151.2,299.0 151.1,301.7 150.4,305.0 C149.6,308.7 148.6,311.4 147.5,315.0 C146.9,316.8 146.2,318.1 145.8,320.0 C143.7,330.8 142.8,339.3 140.6,350.0 C139.0,358.0 135.3,372.0 135.3,372.0 C135.3,372.0 75.0,372.0 75.0,372.0 C75.0,372.0 74.9,352.3 75.8,341.3 C76.4,333.9 78.7,328.4 79.0,321.0 C79.2,317.0 77.5,314.0 77.0,310.0 C76.3,303.9 75.6,299.1 75.6,293.0 C75.6,288.3 76.1,284.6 77.0,280.0 C77.7,276.7 78.3,273.9 80.0,271.0 C81.9,267.7 84.4,265.8 87.0,263.0 C89.4,260.4 92.5,259.2 94.0,256.0 C97.6,248.5 98.0,241.8 101.0,234.0 C104.5,224.8 106.1,216.9 112.0,209.0 C116.9,202.4 122.2,197.6 130.0,195.0 Z" fill="#00ffcc"/><path d="M122.4,227.0 C126.6,225.1 131.4,226.1 135.0,229.0 C138.7,232.0 139.0,236.7 140.0,241.4 C141.3,247.6 140.9,252.7 141.5,259.0 C142.0,263.7 147.6,270.8 143.0,272.0 C124.5,276.7 108.9,274.2 90.0,272.0 C87.7,271.7 91.0,267.8 92.4,266.0 C94.7,263.1 98.1,262.2 100.0,259.0 C103.6,253.1 103.5,247.0 107.4,241.4 C111.7,235.3 115.6,230.1 122.4,227.0 Z" fill="#00ccff"/><path d="M82.8,319.5 C103.9,311.9 122.7,317.3 145.0,319.5 C147.2,319.7 144.4,323.4 144.0,325.5 C142.8,331.2 142.3,335.7 140.6,341.3 C138.6,347.8 137.2,353.1 133.6,358.8 C131.4,362.2 128.5,364.1 125.0,366.0 C122.7,367.3 120.4,367.5 117.8,367.5 C113.3,367.5 109.6,367.7 105.5,365.8 C99.8,363.1 95.6,360.1 91.5,355.3 C87.8,351.0 85.8,346.8 84.5,341.3 C82.6,333.7 75.4,322.2 82.8,319.5 Z" fill="#00ccff"/><path d="M110.0,245.5 C112.3,243.9 114.6,243.1 117.4,242.6 C120.1,242.1 122.4,242.2 125.0,243.0 C127.1,243.6 128.7,244.8 130.0,246.5 C131.8,248.9 132.6,251.2 133.5,254.0 C134.9,258.2 135.2,261.7 136.5,266.0 C137.2,268.2 141.3,271.7 139.0,272.0 C121.1,274.3 106.7,275.2 89.0,272.0 C85.5,271.4 93.0,267.0 95.0,264.0 C97.3,260.5 98.4,257.3 101.0,254.0 C103.8,250.5 106.3,248.0 110.0,245.5 Z" fill="#0066ff"/><path d="M83.6,319.5 C105.2,314.7 123.0,317.3 145.0,319.5 C147.4,319.7 143.6,323.5 142.3,325.5 C139.4,330.1 137.5,334.0 133.6,337.8 C129.8,341.4 126.2,343.7 121.3,345.6 C117.1,347.2 113.5,347.8 109.0,347.4 C103.7,346.9 99.4,345.9 95.0,343.0 C90.9,340.3 88.4,336.9 86.3,332.5 C84.2,328.2 78.9,320.5 83.6,319.5 Z" fill="#0066ff"/><path d="M108.0,253.0 C110.3,251.9 112.4,251.5 115.0,251.2 C117.6,250.9 119.8,250.7 122.4,251.2 C124.2,251.5 125.9,252.0 127.0,253.5 C129.0,256.1 129.1,259.0 130.5,262.0 C132.3,265.7 140.0,271.0 136.0,272.0 C120.3,276.0 106.9,275.3 91.0,272.0 C87.5,271.3 94.8,266.8 97.0,264.0 C99.1,261.4 100.7,259.3 103.0,257.0 C104.6,255.4 105.9,254.0 108.0,253.0 Z" fill="#0000ff"/><path d="M84.5,319.5 C105.5,315.4 122.6,318.6 144.0,319.5 C145.1,319.5 143.2,321.4 142.3,322.0 C136.8,325.5 132.7,328.7 126.5,330.8 C120.5,332.9 115.4,333.8 109.0,333.4 C103.7,333.1 99.6,331.6 95.0,329.0 C90.6,326.5 79.5,320.5 84.5,319.5 Z" fill="#0000ff"/><polygon points="75.6,300.0 83.0,300.0 83.0,319.0 78.0,319.0" fill="#00ffcc"/><ellipse cx="79" cy="319" rx="2.2" ry="1.2" fill="#66ff00"/><ellipse cx="151" cy="319.5" rx="3" ry="2" fill="#ccff00"/><line x1="0" y1="261.3" x2="229" y2="242.2" stroke="#22ee33" stroke-width="0.8"/><line x1="0" y1="331.5" x2="229" y2="312.6" stroke="#22ee33" stroke-width="0.8"/><polygon points="47.91,267.71 86.41,286.61 87.59,284.19 49.09,265.29" fill="none" stroke="#22ff22" stroke-width="0.85"/><polygon points="77.97,255.87 90.97,271.37 93.03,269.63 80.03,254.13" fill="none" stroke="#22ff22" stroke-width="0.85"/><polygon points="112.00,229.00 112.00,271.00 115.40,271.00 115.40,229.00" fill="none" stroke="#22ff22" stroke-width="0.85"/><polygon points="136.04,270.87 162.04,239.77 159.96,238.03 133.96,269.13" fill="none" stroke="#22ff22" stroke-width="0.85"/><polygon points="140.37,285.22 178.57,267.52 177.43,265.08 139.23,282.78" fill="none" stroke="#22ff22" stroke-width="0.85"/><polygon points="42.40,299.90 84.00,299.90 84.00,297.10 42.40,297.10" fill="none" stroke="#22ee22" stroke-width="0.8"/><polygon points="143.00,299.90 184.00,299.90 184.00,297.10 143.00,297.10" fill="none" stroke="#22ee22" stroke-width="0.8"/><polygon points="89.2,271 138.5,271 145.5,319.7 81.6,319.7" fill="#fff"/><polygon points="89.2,271 138.5,271 145.5,319.7 81.6,319.7" fill="none" stroke="#666" stroke-width="0.6"/><rect x="5" y="185.5" width="48.6" height="74" fill="#fff"/><g filter="url(#nf)"><text x="10.2" y="194.6" font-size="4.9" fill="#333" stroke="#333" stroke-width="0.1">Sigma yy</text><rect x="11.2" y="197.70" width="11.2" height="5.61" fill="#0000ff"/><rect x="11.2" y="203.26" width="11.2" height="5.61" fill="#0066ff"/><rect x="11.2" y="208.82" width="11.2" height="5.61" fill="#00ccff"/><rect x="11.2" y="214.38" width="11.2" height="5.61" fill="#00ffcc"/><rect x="11.2" y="219.94" width="11.2" height="5.61" fill="#00ff66"/><rect x="11.2" y="225.50" width="11.2" height="5.61" fill="#00ff00"/><rect x="11.2" y="231.06" width="11.2" height="5.61" fill="#66ff00"/><rect x="11.2" y="236.62" width="11.2" height="5.61" fill="#ccff00"/><rect x="11.2" y="242.18" width="11.2" height="5.61" fill="#ffcc00"/><rect x="11.2" y="247.74" width="11.2" height="5.61" fill="#ff0000"/><rect x="11.2" y="197.7" width="11.2" height="55.60" fill="none" stroke="#555" stroke-width="0.3"/><text x="25" y="200.25" font-size="4.9" fill="#000" stroke="#000" stroke-width="0.15">-2.00e-001</text><text x="25" y="205.70" font-size="4.9" fill="#000" stroke="#000" stroke-width="0.15">2.00e-001</text><text x="25" y="211.15" font-size="4.9" fill="#000" stroke="#000" stroke-width="0.15">6.00e-001</text><text x="25" y="216.60" font-size="4.9" fill="#000" stroke="#000" stroke-width="0.15">1.00e+000</text><text x="25" y="222.05" font-size="4.9" fill="#000" stroke="#000" stroke-width="0.15">1.40e+000</text><text x="25" y="227.50" font-size="4.9" fill="#000" stroke="#000" stroke-width="0.15">1.80e+000</text><text x="25" y="232.95" font-size="4.9" fill="#000" stroke="#000" stroke-width="0.15">2.20e+000</text><text x="25" y="238.40" font-size="4.9" fill="#000" stroke="#000" stroke-width="0.15">2.60e+000</text><text x="25" y="243.85" font-size="4.9" fill="#000" stroke="#000" stroke-width="0.15">3.00e+000</text><text x="25" y="249.30" font-size="4.9" fill="#000" stroke="#000" stroke-width="0.15">3.40e+000</text><text x="25" y="254.75" font-size="4.9" fill="#000" stroke="#000" stroke-width="0.15">3.80e+000</text></g><g filter="url(#nf)"><text x="4.5" y="358.5" font-size="14" fill="#000" stroke="#000" stroke-width="0.08">(d)</text></g></g><clipPath id="cpe"><rect x="229" y="184" width="227" height="185"/></clipPath><g clip-path="url(#cpe)"><rect x="229" y="184" width="227" height="185" fill="#00ff00"/><path d="M226.0,259.0 C226.0,259.0 249.7,254.8 261.5,259.8 C266.3,261.9 262.4,269.1 262.3,274.4 C262.1,280.3 262.2,285.0 260.7,290.7 C259.5,295.1 257.8,298.4 255.0,302.0 C252.2,305.5 249.1,307.6 245.3,310.0 C238.7,314.1 226.0,320.0 226.0,320.0 C226.0,320.0 226.0,259.0 226.0,259.0 Z" fill="#66ff00"/><path d="M231.4,260.0 C235.2,256.8 240.7,258.0 245.3,260.0 C247.3,260.9 245.9,264.1 245.0,266.0 C243.9,268.3 242.4,270.1 240.0,271.0 C237.6,271.9 234.6,272.5 233.0,270.5 C230.6,267.5 228.5,262.5 231.4,260.0 Z" fill="#ccff00"/><path d="M459.0,255.0 C459.0,255.0 447.2,258.0 441.8,262.0 C437.1,265.5 435.6,270.4 432.0,275.0 C428.8,279.1 424.9,281.3 422.7,286.0 C419.6,292.8 418.6,298.8 417.7,306.3 C416.8,313.5 416.5,319.3 417.7,326.4 C419.2,335.8 422.7,342.5 425.2,351.7 C427.2,359.0 430.3,372.0 430.3,372.0 C430.3,372.0 459.0,372.0 459.0,372.0 C459.0,372.0 459.0,255.0 459.0,255.0 Z" fill="#66ff00"/><path d="M437.5,303.7 C440.2,303.5 442.9,303.2 445.0,305.0 C447.4,307.0 448.3,309.9 448.5,313.0 C448.7,316.0 448.0,318.8 446.0,321.0 C443.9,323.3 441.1,324.5 438.0,324.5 C434.7,324.5 431.7,323.4 429.5,321.0 C427.5,318.8 427.4,316.0 427.5,313.0 C427.6,310.3 428.0,307.8 430.0,306.0 C432.1,304.1 434.7,303.9 437.5,303.7 Z" fill="#ccff00"/><polygon points="226.0,180.0 330.0,180.0 320.0,220.0 300.0,260.0 290.0,300.0 285.0,330.0 280.0,345.0 272.0,372.0 232.0,372.0 241.8,354.3 248.0,344.0 254.7,332.8 259.5,324.0 263.3,315.7 266.5,305.0 269.7,290.0 270.6,276.0 270.0,262.0 265.0,258.0 226.0,258.0" fill="#00ff66"/><path d="M306.0,180.0 C306.0,180.0 459.0,180.0 459.0,180.0 C459.0,180.0 459.0,216.4 459.0,216.4 C459.0,216.4 447.5,235.3 441.8,246.3 C438.6,252.4 437.0,257.5 434.3,263.8 C432.5,268.2 433.3,273.5 429.3,276.0 C424.9,278.8 417.9,271.7 415.0,276.0 C410.0,283.5 413.9,292.1 412.6,301.0 C411.2,310.2 408.6,317.1 407.6,326.4 C405.8,342.7 405.0,372.0 405.0,372.0 C405.0,372.0 380.0,372.0 380.0,372.0 C380.0,372.0 402.3,257.8 380.0,200.0 C370.1,174.3 306.0,180.0 306.0,180.0 Z" fill="#00ff66"/><path d="M306.6,180.0 C306.6,180.0 424.3,180.0 424.3,180.0 C424.3,180.0 423.2,198.6 421.8,209.0 C420.5,218.1 419.0,225.1 416.8,234.0 C414.5,243.0 412.1,249.9 409.3,258.8 C407.4,265.0 405.2,269.7 403.8,276.0 C401.8,284.9 401.6,292.0 400.0,301.0 C398.4,310.2 397.2,317.4 395.0,326.4 C392.7,335.6 389.2,342.4 387.4,351.7 C386.0,358.9 386.0,372.0 386.0,372.0 C386.0,372.0 268.0,372.0 268.0,372.0 C268.0,372.0 269.9,350.8 272.0,339.0 C272.8,334.5 274.7,331.4 276.0,327.0 C277.4,322.4 279.0,318.8 279.4,314.0 C280.2,305.4 279.4,298.6 279.4,290.0 C279.4,285.0 279.0,281.0 279.4,276.0 C279.8,270.9 280.4,267.0 281.4,262.0 C282.4,256.9 283.6,253.0 285.0,248.0 C286.8,241.5 288.2,236.4 290.3,230.0 C292.5,223.1 294.5,217.8 297.0,211.0 C298.8,206.1 300.9,202.5 302.5,197.5 C304.4,191.3 306.6,180.0 306.6,180.0 Z" fill="#00ffcc"/><path d="M351.9,201.0 C359.3,201.0 365.1,203.7 371.6,207.3 C377.6,210.6 381.4,214.6 385.9,219.8 C389.9,224.4 392.3,228.5 394.8,234.0 C396.7,238.3 397.9,241.9 398.0,246.6 C398.2,252.8 396.2,257.6 395.6,263.8 C395.2,268.2 395.7,271.7 395.0,276.0 C393.6,285.1 392.1,292.1 390.0,301.0 C388.8,306.1 388.9,310.6 386.0,315.0 C383.9,318.2 380.1,318.2 377.0,320.5 C375.2,321.9 373.2,322.8 372.5,325.0 C371.1,329.1 372.0,332.7 371.4,337.0 C370.6,342.3 369.5,346.3 368.5,351.5 C367.4,357.1 366.6,361.4 365.6,367.0 C365.3,368.8 365.0,372.0 365.0,372.0 C365.0,372.0 304.7,372.0 304.7,372.0 C304.7,372.0 306.3,358.8 304.7,351.7 C302.6,342.1 297.4,335.8 294.6,326.4 C291.9,317.5 290.7,310.3 289.5,301.0 C288.4,292.1 286.9,284.9 288.3,276.0 C289.4,269.3 292.7,264.6 296.3,258.8 C299.1,254.4 302.5,251.9 306.0,248.0 C307.7,246.2 309.5,245.2 310.7,243.0 C312.6,239.4 312.6,236.0 314.3,232.3 C316.5,227.6 318.1,223.7 321.5,219.8 C326.0,214.6 330.0,210.9 335.8,207.3 C341.1,204.0 345.7,201.0 351.9,201.0 Z" fill="#00ccff"/><path d="M342.0,231.4 C347.1,231.4 349.1,237.2 352.0,241.4 C355.5,246.3 357.3,250.7 359.5,256.3 C360.9,259.7 359.9,263.2 362.0,266.3 C364.0,269.2 366.8,270.6 370.0,272.0 C374.7,274.1 380.3,272.1 383.6,276.0 C387.1,280.2 386.4,285.5 386.0,291.0 C385.5,297.6 383.5,302.6 381.0,308.8 C379.4,312.8 376.7,315.1 374.8,319.0 C373.4,321.7 373.5,324.3 372.0,327.0 C368.1,333.8 365.0,339.0 360.0,345.0 C354.5,351.6 351.0,358.7 343.0,361.8 C338.3,363.6 334.0,359.8 330.0,356.7 C325.3,353.1 322.8,349.0 319.8,344.0 C316.3,338.0 315.5,332.4 312.0,326.4 C310.1,323.2 306.6,322.3 305.0,319.0 C302.0,312.6 300.5,307.1 299.6,300.0 C298.7,292.9 296.3,286.2 300.0,280.0 C302.6,275.5 309.6,279.0 313.8,276.0 C317.0,273.7 317.2,269.9 318.8,266.3 C320.8,261.9 322.0,258.3 323.8,253.8 C325.6,249.3 325.8,245.1 328.8,241.4 C332.6,236.8 336.0,231.4 342.0,231.4 Z" fill="#0066ff"/><path d="M342.0,246.3 C346.8,248.0 348.6,252.5 352.0,256.3 C355.0,259.7 356.5,262.9 359.5,266.3 C361.6,268.6 369.1,271.6 366.0,272.0 C348.5,274.3 334.5,274.4 317.0,272.0 C313.8,271.6 321.9,268.9 323.8,266.3 C326.2,263.1 326.7,259.7 328.8,256.3 C330.3,253.8 331.4,251.7 333.7,250.0 C336.3,248.0 338.9,245.2 342.0,246.3 Z" fill="#0000ff"/><path d="M311.0,319.0 C332.6,315.1 350.2,316.8 372.0,319.0 C374.3,319.2 370.8,323.0 369.7,325.0 C368.3,327.7 367.4,330.1 365.0,332.0 C361.9,334.4 358.8,335.3 355.0,336.5 C350.8,337.8 347.4,339.0 343.0,339.0 C338.2,339.0 334.4,338.2 330.0,336.5 C325.1,334.6 321.2,332.6 317.3,329.0 C314.2,326.1 306.8,319.8 311.0,319.0 Z" fill="#0000ff"/><line x1="229" y1="261.3" x2="456" y2="242.2" stroke="#22ee33" stroke-width="0.8"/><line x1="229" y1="331.5" x2="456" y2="312.6" stroke="#22ee33" stroke-width="0.8"/><polygon points="276.01,267.71 313.01,285.71 314.19,283.29 277.19,265.29" fill="none" stroke="#22ff22" stroke-width="0.85"/><polygon points="291.67,238.87 318.97,271.37 321.03,269.63 293.73,237.13" fill="none" stroke="#22ff22" stroke-width="0.85"/><polygon points="339.25,225.00 339.25,271.00 342.35,271.00 342.35,225.00" fill="none" stroke="#22ff22" stroke-width="0.85"/><polygon points="365.05,271.35 391.05,239.35 388.95,237.65 362.95,269.65" fill="none" stroke="#22ff22" stroke-width="0.85"/><polygon points="368.59,285.71 405.59,267.71 404.41,265.29 367.41,283.29" fill="none" stroke="#22ff22" stroke-width="0.85"/><polygon points="270.00,300.30 311.00,300.30 311.00,297.70 270.00,297.70" fill="none" stroke="#22ee22" stroke-width="0.8"/><polygon points="372.00,300.30 413.00,300.30 413.00,297.70 372.00,297.70" fill="none" stroke="#22ee22" stroke-width="0.8"/><ellipse cx="310.5" cy="321" rx="1.7" ry="1.9" fill="#44ff22" opacity="0.8"/><ellipse cx="372.5" cy="321.5" rx="1.7" ry="1.9" fill="#44ff22" opacity="0.8"/><ellipse cx="317.5" cy="268.5" rx="1.7" ry="1.9" fill="#44ff22" opacity="0.8"/><ellipse cx="365.5" cy="268.5" rx="1.7" ry="1.9" fill="#44ff22" opacity="0.8"/><polygon points="316.7,271 366.4,271 373,319.1 309.9,319.1" fill="#fff"/><polygon points="316.7,271 366.4,271 373,319.1 309.9,319.1" fill="none" stroke="#4a8a6a" stroke-width="1.1" stroke-dasharray="0.9 0.9"/><rect x="231" y="186" width="49" height="73" fill="#fff"/><g filter="url(#nf)"><text x="235.5" y="194.6" font-size="4.9" fill="#333" stroke="#333" stroke-width="0.1">Sigma yy</text><rect x="236.5" y="197.70" width="11.2" height="5.61" fill="#0000ff"/><rect x="236.5" y="203.26" width="11.2" height="5.61" fill="#0066ff"/><rect x="236.5" y="208.82" width="11.2" height="5.61" fill="#00ccff"/><rect x="236.5" y="214.38" width="11.2" height="5.61" fill="#00ffcc"/><rect x="236.5" y="219.94" width="11.2" height="5.61" fill="#00ff66"/><rect x="236.5" y="225.50" width="11.2" height="5.61" fill="#00ff00"/><rect x="236.5" y="231.06" width="11.2" height="5.61" fill="#66ff00"/><rect x="236.5" y="236.62" width="11.2" height="5.61" fill="#ccff00"/><rect x="236.5" y="242.18" width="11.2" height="5.61" fill="#ffcc00"/><rect x="236.5" y="247.74" width="11.2" height="5.61" fill="#ff0000"/><rect x="236.5" y="197.7" width="11.2" height="55.60" fill="none" stroke="#555" stroke-width="0.3"/><text x="252.7" y="200.25" font-size="4.9" fill="#000" stroke="#000" stroke-width="0.15">-5.500e-001</text><text x="252.7" y="205.70" font-size="4.9" fill="#000" stroke="#000" stroke-width="0.15">5.500e-001</text><text x="252.7" y="211.15" font-size="4.9" fill="#000" stroke="#000" stroke-width="0.15">1.650e+000</text><text x="252.7" y="216.60" font-size="4.9" fill="#000" stroke="#000" stroke-width="0.15">2.750e+000</text><text x="252.7" y="222.05" font-size="4.9" fill="#000" stroke="#000" stroke-width="0.15">3.850e+000</text><text x="252.7" y="227.50" font-size="4.9" fill="#000" stroke="#000" stroke-width="0.15">4.950e+000</text><text x="252.7" y="232.95" font-size="4.9" fill="#000" stroke="#000" stroke-width="0.15">6.050e+000</text><text x="252.7" y="238.40" font-size="4.9" fill="#000" stroke="#000" stroke-width="0.15">7.150e+000</text><text x="252.7" y="243.85" font-size="4.9" fill="#000" stroke="#000" stroke-width="0.15">8.250e+000</text><text x="252.7" y="249.30" font-size="4.9" fill="#000" stroke="#000" stroke-width="0.15">9.350e+000</text><text x="252.7" y="254.75" font-size="4.9" fill="#000" stroke="#000" stroke-width="0.15">1.045e+001</text></g><g filter="url(#nf)"><text x="234.5" y="358.5" font-size="14" fill="#000" stroke="#000" stroke-width="0.08">(e)</text></g></g><clipPath id="cpf"><rect x="456" y="184" width="229" height="185"/></clipPath><g clip-path="url(#cpf)"><rect x="456" y="184" width="229" height="185" fill="#00ff00"/><path d="M453.0,255.0 C453.0,255.0 469.8,252.4 476.0,258.0 C480.8,262.4 476.2,269.5 476.0,276.0 C475.8,281.4 477.0,286.0 475.0,291.0 C473.2,295.5 469.8,298.0 466.0,301.0 C461.8,304.3 453.0,308.0 453.0,308.0 C453.0,308.0 453.0,255.0 453.0,255.0 Z" fill="#66ff00"/><path d="M688.0,266.0 C688.0,266.0 684.3,270.0 682.0,272.0 C680.0,273.7 678.0,274.4 676.0,276.0 C673.0,278.4 670.7,280.3 668.0,283.0 C665.2,285.7 662.0,287.3 660.8,291.0 C658.3,298.9 659.6,305.6 658.3,313.8 C656.9,322.9 653.6,329.8 653.2,339.0 C652.7,350.9 655.8,372.0 655.8,372.0 C655.8,372.0 688.0,372.0 688.0,372.0 C688.0,372.0 688.0,266.0 688.0,266.0 Z" fill="#66ff00"/><path d="M523.3,180.0 C523.3,180.0 688.0,180.0 688.0,180.0 C688.0,180.0 688.0,231.0 688.0,231.0 C688.0,231.0 681.0,237.4 677.5,241.3 C673.5,245.8 670.8,249.6 667.0,254.3 C662.4,260.0 658.5,264.2 654.0,270.0 C651.3,273.5 648.5,275.9 647.0,280.0 C644.4,287.3 643.7,293.3 643.0,301.0 C642.2,310.1 643.4,317.3 643.0,326.4 C642.6,335.5 641.1,342.6 640.6,351.7 C640.2,359.0 640.6,372.0 640.6,372.0 C640.6,372.0 453.0,372.0 453.0,372.0 C453.0,372.0 453.0,351.7 453.0,351.7 C453.0,351.7 463.7,344.3 468.6,339.0 C473.9,333.3 477.4,328.2 481.0,321.4 C484.7,314.5 487.5,308.7 488.8,301.0 C490.3,292.1 487.4,284.9 488.8,276.0 C489.7,270.6 492.7,267.0 495.0,262.0 C498.6,254.1 501.9,248.1 505.0,240.0 C508.2,231.6 509.6,224.7 512.5,216.2 C514.3,211.0 516.3,207.2 517.9,201.9 C520.2,194.1 523.3,180.0 523.3,180.0 Z" fill="#00ff66"/><path d="M523.3,180.0 C523.3,180.0 663.2,180.0 663.2,180.0 C663.2,180.0 662.4,199.3 660.6,210.0 C659.0,219.5 657.3,226.9 654.0,236.0 C651.1,243.9 646.8,249.2 643.6,257.0 C640.3,265.1 637.8,271.5 635.8,280.0 C634.0,287.4 633.9,293.4 633.0,301.0 C632.0,310.1 632.3,317.4 630.5,326.4 C628.7,335.7 625.1,342.4 623.0,351.7 C621.4,358.9 620.4,372.0 620.4,372.0 C620.4,372.0 488.8,372.0 488.8,372.0 C488.8,372.0 489.9,358.9 491.3,351.7 C493.5,340.7 496.4,332.4 498.9,321.4 C500.5,314.1 502.3,308.5 502.7,301.0 C503.2,292.0 501.3,285.0 501.4,276.0 C501.4,269.5 502.0,264.4 503.0,258.0 C504.7,247.4 506.6,239.2 509.0,228.7 C510.0,224.1 511.0,220.6 512.5,216.2 C514.2,211.0 516.3,207.2 517.9,201.9 C520.2,194.1 523.3,180.0 523.3,180.0 Z" fill="#00ffcc"/><path d="M580.0,191.5 C583.5,190.9 586.5,190.6 590.0,191.5 C593.9,192.5 596.8,194.0 600.0,196.5 C605.0,200.4 608.8,203.8 612.4,209.0 C615.2,212.9 616.0,216.8 617.4,221.4 C618.7,225.8 618.8,229.5 620.0,234.0 C621.5,239.4 624.0,243.3 625.0,248.8 C626.2,255.0 626.2,260.0 626.0,266.3 C625.9,269.9 624.5,272.5 624.2,276.0 C623.4,285.0 624.7,292.2 623.0,301.0 C621.5,308.7 618.2,314.1 615.4,321.4 C611.9,330.5 608.3,337.3 605.3,346.6 C602.4,355.6 599.0,372.0 599.0,372.0 C599.0,372.0 524.0,372.0 524.0,372.0 C524.0,372.0 524.8,359.0 524.0,351.7 C523.0,342.5 520.8,335.5 519.0,326.4 C517.2,317.3 515.2,310.2 514.0,301.0 C512.9,292.1 512.9,285.0 512.7,276.0 C512.7,273.4 512.9,271.4 513.4,268.8 C514.8,262.0 515.8,256.6 517.9,250.0 C518.7,247.3 519.8,245.3 521.5,243.0 C525.0,238.2 528.7,235.3 532.2,230.5 C535.8,225.6 537.6,221.1 541.1,216.2 C544.0,212.1 546.3,208.9 550.0,205.5 C554.1,201.7 557.5,198.9 562.6,196.5 C568.5,193.7 573.6,192.7 580.0,191.5 Z" fill="#00ccff"/><path d="M566.5,228.0 C569.6,228.0 572.0,228.1 575.0,229.0 C577.9,229.9 580.7,230.4 582.6,232.8 C584.8,235.6 584.6,238.9 585.5,242.3 C586.6,246.3 587.4,249.5 588.3,253.6 C589.4,258.4 588.3,263.0 591.2,267.0 C593.1,269.7 596.7,269.3 600.0,270.0 C603.5,270.8 606.6,269.8 610.0,271.0 C612.8,272.0 616.1,273.1 616.7,276.0 C618.2,283.1 616.8,288.9 615.4,296.0 C614.0,302.7 612.2,307.8 609.0,313.8 C607.5,316.6 605.4,318.1 602.8,320.0 C600.2,321.9 596.6,321.3 595.0,324.0 C591.6,329.7 592.3,335.4 590.0,341.6 C587.9,347.3 586.8,352.4 582.6,356.7 C579.2,360.2 574.9,361.6 570.0,362.0 C565.2,362.4 561.0,361.7 557.0,359.0 C552.2,355.8 549.6,351.7 546.8,346.6 C543.1,339.8 542.9,333.2 539.2,326.4 C537.4,323.1 533.4,322.4 531.7,319.0 C528.7,313.0 528.6,307.4 526.6,301.0 C524.9,295.6 521.5,291.7 521.6,286.0 C521.7,281.3 523.3,277.0 527.0,274.0 C530.7,271.0 535.4,272.3 540.0,271.0 C544.5,269.8 550.0,271.0 552.3,267.0 C555.7,261.1 552.4,254.8 553.2,248.0 C553.7,243.8 554.4,240.5 556.0,236.6 C557.2,233.6 558.3,231.1 560.8,229.0 C562.4,227.7 564.4,228.0 566.5,228.0 Z" fill="#0066ff"/><ellipse cx="608.5" cy="244" rx="2.5" ry="3" fill="#0066ff"/><path d="M548.5,271.0 C544.6,269.9 552.1,264.8 554.0,261.2 C556.5,256.5 558.2,252.7 560.8,248.0 C561.7,246.5 562.1,244.9 563.6,244.0 C565.4,243.0 567.2,243.0 569.3,243.2 C571.5,243.4 573.4,243.7 575.0,245.1 C576.4,246.3 576.1,248.2 577.0,249.8 C578.9,253.3 580.6,255.9 582.6,259.3 C584.6,262.7 585.9,265.6 588.3,268.8 C589.3,270.1 593.6,271.4 592.0,271.5 C576.4,272.4 563.6,275.1 548.5,271.0 Z" fill="#0000ff"/><path d="M537.0,319.0 C559.7,316.4 577.7,316.8 600.4,319.0 C602.8,319.2 598.9,322.9 597.7,325.0 C596.2,327.6 595.4,330.2 593.0,332.0 C589.5,334.6 586.1,335.5 582.0,337.0 C577.8,338.5 574.5,339.9 570.0,340.3 C567.1,340.6 564.8,339.8 562.0,339.0 C556.4,337.5 551.8,336.8 546.8,334.0 C543.3,332.0 541.2,329.4 539.0,326.0 C537.6,323.8 534.4,319.3 537.0,319.0 Z" fill="#0000ff"/><line x1="456" y1="261.3" x2="685" y2="242.2" stroke="#22ee33" stroke-width="0.8"/><line x1="456" y1="331.5" x2="685" y2="312.6" stroke="#22ee33" stroke-width="0.8"/><polygon points="502.42,267.72 540.42,285.72 541.58,283.28 503.58,265.28" fill="none" stroke="#22ff22" stroke-width="0.85"/><polygon points="518.98,238.88 546.98,271.38 549.02,269.62 521.02,237.12" fill="none" stroke="#22ff22" stroke-width="0.85"/><polygon points="567.00,227.00 567.00,271.00 570.40,271.00 570.40,227.00" fill="none" stroke="#22ff22" stroke-width="0.85"/><polygon points="592.55,271.35 618.55,239.35 616.45,237.65 590.45,269.65" fill="none" stroke="#22ff22" stroke-width="0.85"/><polygon points="596.09,285.71 633.09,267.71 631.91,265.29 594.91,283.29" fill="none" stroke="#22ff22" stroke-width="0.85"/><polygon points="497.50,300.30 538.00,300.30 538.00,297.70 497.50,297.70" fill="none" stroke="#22ee22" stroke-width="0.8"/><polygon points="600.00,300.30 640.00,300.30 640.00,297.70 600.00,297.70" fill="none" stroke="#22ee22" stroke-width="0.8"/><ellipse cx="537.5" cy="321" rx="1.7" ry="1.9" fill="#44ff22" opacity="0.8"/><ellipse cx="600" cy="321.5" rx="1.7" ry="1.9" fill="#44ff22" opacity="0.8"/><ellipse cx="545" cy="268.5" rx="1.7" ry="1.9" fill="#44ff22" opacity="0.8"/><ellipse cx="593" cy="268.5" rx="1.7" ry="1.9" fill="#44ff22" opacity="0.8"/><rect x="567.3" y="228" width="2.8" height="18" fill="#44ee44"/><polygon points="544.1,271 593.7,271 600.4,319 536.9,319" fill="#fff"/><polygon points="544.1,271 593.7,271 600.4,319 536.9,319" fill="none" stroke="#4a8a6a" stroke-width="1.1" stroke-dasharray="0.9 0.9"/><rect x="458.5" y="185.5" width="48.5" height="73.5" fill="#fff"/><g filter="url(#nf)"><text x="462.5" y="194.6" font-size="4.9" fill="#333" stroke="#333" stroke-width="0.1">Sigma yy</text><rect x="463.5" y="197.70" width="11.2" height="5.61" fill="#0000ff"/><rect x="463.5" y="203.26" width="11.2" height="5.61" fill="#0066ff"/><rect x="463.5" y="208.82" width="11.2" height="5.61" fill="#00ccff"/><rect x="463.5" y="214.38" width="11.2" height="5.61" fill="#00ffcc"/><rect x="463.5" y="219.94" width="11.2" height="5.61" fill="#00ff66"/><rect x="463.5" y="225.50" width="11.2" height="5.61" fill="#00ff00"/><rect x="463.5" y="231.06" width="11.2" height="5.61" fill="#66ff00"/><rect x="463.5" y="236.62" width="11.2" height="5.61" fill="#ccff00"/><rect x="463.5" y="242.18" width="11.2" height="5.61" fill="#ffcc00"/><rect x="463.5" y="247.74" width="11.2" height="5.61" fill="#ff0000"/><rect x="463.5" y="197.7" width="11.2" height="55.60" fill="none" stroke="#555" stroke-width="0.3"/><text x="479.7" y="200.25" font-size="4.9" fill="#000" stroke="#000" stroke-width="0.15">-7.000e-001</text><text x="479.7" y="205.70" font-size="4.9" fill="#000" stroke="#000" stroke-width="0.15">7.000e-001</text><text x="479.7" y="211.15" font-size="4.9" fill="#000" stroke="#000" stroke-width="0.15">2.100e+000</text><text x="479.7" y="216.60" font-size="4.9" fill="#000" stroke="#000" stroke-width="0.15">3.500e+000</text><text x="479.7" y="222.05" font-size="4.9" fill="#000" stroke="#000" stroke-width="0.15">4.900e+000</text><text x="479.7" y="227.50" font-size="4.9" fill="#000" stroke="#000" stroke-width="0.15">6.300e+000</text><text x="479.7" y="232.95" font-size="4.9" fill="#000" stroke="#000" stroke-width="0.15">7.700e+000</text><text x="479.7" y="238.40" font-size="4.9" fill="#000" stroke="#000" stroke-width="0.15">9.100e+000</text><text x="479.7" y="243.85" font-size="4.9" fill="#000" stroke="#000" stroke-width="0.15">1.050e+001</text><text x="479.7" y="249.30" font-size="4.9" fill="#000" stroke="#000" stroke-width="0.15">1.190e+001</text><text x="479.7" y="254.75" font-size="4.9" fill="#000" stroke="#000" stroke-width="0.15">1.330e+001</text></g><g filter="url(#nf)"><text x="464.5" y="358.5" font-size="14" fill="#000" stroke="#000" stroke-width="0.08">(f)</text></g></g>
<rect x="0.5" y="0.5" width="684" height="368" fill="none" stroke="#fff" stroke-width="1"/>
<rect x="683.4" y="0" width="2" height="369" fill="#fff" opacity="0.55"/>
</svg>
</body></html>
